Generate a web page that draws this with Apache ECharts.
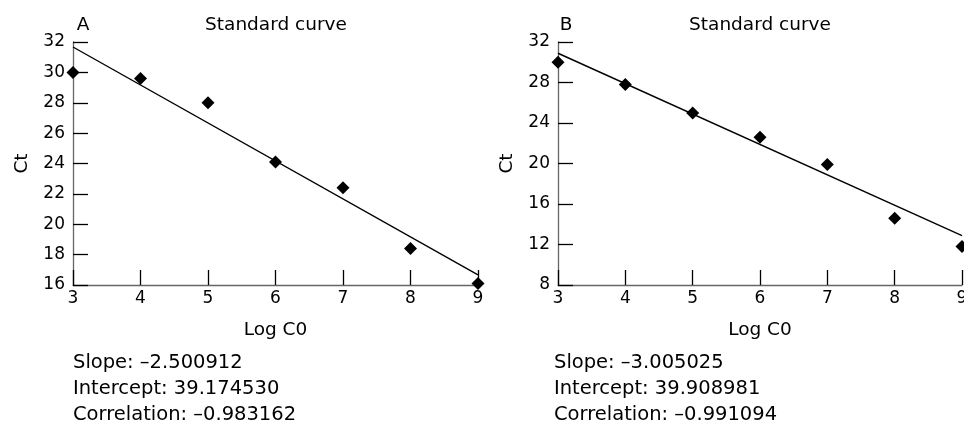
<!DOCTYPE html>
<html><head><meta charset="utf-8">
<script src="https://cdn.jsdelivr.net/npm/echarts@6/dist/echarts.min.js"></script>
<style>html,body{margin:0;padding:0;background:#fff}#c{width:964px;height:425px}</style>
</head><body><div id="c"></div>
<script>
// Data
const logC0 = [3, 4, 5, 6, 7, 8, 9];
const ctA = [30.0, 29.6, 28.0, 24.1, 22.4, 18.4, 16.1];
const ctB = [30.0, 27.8, 25.0, 22.6, 19.9, 14.6, 11.8];
const fitA = [[3, 31.67], [9, 16.67]];
const fitB = [[3, 30.89], [9, 12.88]];
const panelLetters = ['A', 'B'];
const chartTitle = 'Standard curve';
const xName = 'Log C0';
const yName = 'Ct';
const statsA = ['Slope: \u20132.500912', 'Intercept: 39.174530', 'Correlation: \u20130.983162'];
const statsB = ['Slope: \u20133.005025', 'Intercept: 39.908981', 'Correlation: \u20130.991094'];
const yTicksA = {min: 16, max: 32, interval: 2};
const yTicksB = {min: 8, max: 32, interval: 4};

const FONT = '"DejaVu Sans"';
const grids = [
  {left: 73, top: 42, width: 405, height: 243, outerBoundsMode: 'none', containLabel: false},
  {left: 558, top: 42, width: 404, height: 243, outerBoundsMode: 'none', containLabel: false}
];
function xAxis(i) {
  return {
    gridIndex: i, type: 'value', min: 3, max: 9, interval: 1,
    name: xName, nameLocation: 'middle', nameGap: 36,
    nameTextStyle: {fontFamily: FONT, fontSize: 18.5, color: '#000'},
    axisLine: {lineStyle: {color: '#666', width: 1.3}},
    axisTick: {inside: true, length: 15, lineStyle: {color: '#000', width: 1.3}},
    axisLabel: {fontFamily: FONT, fontSize: 17, color: '#000', margin: 5, hideOverlap: false, showMaxLabel: true, showMinLabel: true},
    splitLine: {show: false}
  };
}
function yAxis(i, t) {
  return {
    gridIndex: i, type: 'value', min: t.min, max: t.max, interval: t.interval,
    name: yName, nameLocation: 'middle', nameGap: 41, nameRotate: 90,
    nameTextStyle: {fontFamily: FONT, fontSize: 18.5, color: '#000'},
    axisLine: {lineStyle: {color: '#666', width: 1.3}},
    axisTick: {inside: true, length: 15, lineStyle: {color: '#000', width: 1.3}},
    axisLabel: {fontFamily: FONT, fontSize: 17, color: '#000', margin: 8, showMaxLabel: true, showMinLabel: true},
    splitLine: {show: false}
  };
}
function pts(ys) { return logC0.map((x, k) => [x, ys[k]]); }
function txt(s, x, y, size, align) {
  return {
    type: 'text', x: x, y: y, silent: true,
    style: {text: s, font: size + 'px ' + FONT, fill: '#000', align: align || 'left', verticalAlign: 'middle'}
  };
}
function statGraphics(lines, left) {
  return lines.map((s, k) => txt(s, left, 363 + k * 26, 19.5, 'left'));
}
const graphics = [
  txt(panelLetters[0], 83, 25, 18.5, 'center'),
  txt(chartTitle, 276, 25, 18.5, 'center'),
  txt(panelLetters[1], 566, 25, 18.5, 'center'),
  txt(chartTitle, 760, 25, 18.5, 'center')
].concat(statGraphics(statsA, 73), statGraphics(statsB, 554));

const chart = echarts.init(document.getElementById('c'), null, {renderer: 'canvas'});
chart.setOption({
  animation: false,
  grid: grids,
  xAxis: [xAxis(0), xAxis(1)],
  yAxis: [yAxis(0, yTicksA), yAxis(1, yTicksB)],
  graphic: graphics,
  series: [
    {type: 'line', xAxisIndex: 0, yAxisIndex: 0, data: fitA, showSymbol: false, lineStyle: {color: '#000', width: 1.4}, silent: true},
    {type: 'scatter', xAxisIndex: 0, yAxisIndex: 0, data: pts(ctA), symbol: 'diamond', symbolSize: 13, itemStyle: {color: '#000', opacity: 1}, clip: false},
    {type: 'line', xAxisIndex: 1, yAxisIndex: 1, data: fitB, showSymbol: false, lineStyle: {color: '#000', width: 1.4}, silent: true},
    {type: 'scatter', xAxisIndex: 1, yAxisIndex: 1, data: pts(ctB), symbol: 'diamond', symbolSize: 13, itemStyle: {color: '#000', opacity: 1}, clip: false}
  ]
});
</script></body></html>
